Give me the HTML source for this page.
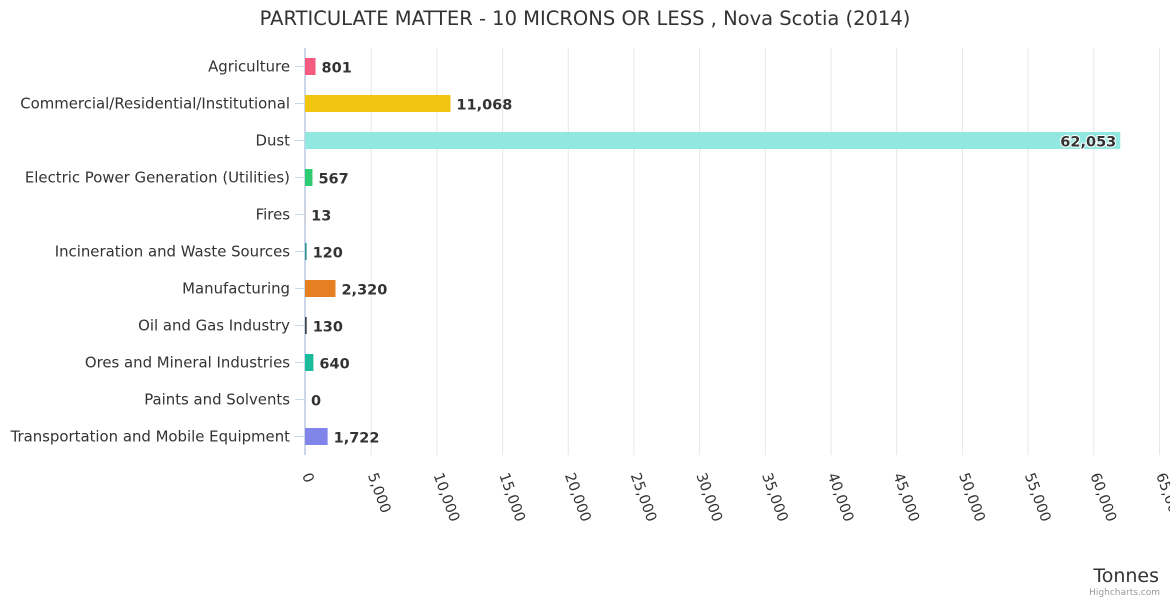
<!DOCTYPE html>
<html><head><meta charset="utf-8"><style>
body{margin:0;background:#fff;}
svg{font-family:"DejaVu Sans",sans-serif;display:block}
</style></head><body>
<svg id="chart" width="1170" height="600">
<text x="585" y="25" text-anchor="middle" font-size="19.5" fill="#333" font-family="DejaVu Sans, sans-serif">PARTICULATE MATTER - 10 MICRONS OR LESS , Nova Scotia (2014)</text>
<g id="grid"></g><g id="bars"></g><g id="labels"></g>
<text x="1159" y="582" text-anchor="end" font-size="19" fill="#333" font-family="DejaVu Sans, sans-serif">Tonnes</text>
<text x="1160" y="595" text-anchor="end" font-size="9" fill="#999">Highcharts.com</text>
</svg>
<script>
const categories=["Agriculture","Commercial/Residential/Institutional","Dust","Electric Power Generation (Utilities)","Fires","Incineration and Waste Sources","Manufacturing","Oil and Gas Industry","Ores and Mineral Industries","Paints and Solvents","Transportation and Mobile Equipment"];
const values=[801,11068,62053,567,13,120,2320,130,640,0,1722];
const colors=["#f45b80","#f1c40f","#91e8e1","#2ecc71","#f7a35c","#2b908f","#e67e22","#434348","#1abc9c","#8d4653","#8085e9"];
const ticks=[0,5000,10000,15000,20000,25000,30000,35000,40000,45000,50000,55000,60000,65000];
const X0=305,X1=1159,XMAX=65000,Y0=48,ROW=37;
const NS="http://www.w3.org/2000/svg";
const x=v=>X0+(X1-X0)*v/XMAX;
const yc=i=>Y0+ROW*i+ROW/2;
const fmt=v=>v.toLocaleString('en-US');
function mk(t,a,p){const e=document.createElementNS(NS,t);for(const k in a)e.setAttribute(k,a[k]);p.appendChild(e);return e;}
const G=document.getElementById('grid'),B=document.getElementById('bars'),L=document.getElementById('labels');
const H=Y0+ROW*categories.length;
ticks.forEach(t=>{
 const gl=mk('line',{x1:x(t)+0.5,x2:x(t)+0.5,y1:Y0,y2:H,stroke:t===0?'#ccd6eb':'#e6e6e6','stroke-width':1},G);
 
 
 const tx=mk('text',{transform:`translate(${x(t)-3},${475}) rotate(70)`,'font-size':14.5,fill:'#333','font-family':'DejaVu Sans, sans-serif'},L);
 tx.textContent=fmt(t);
 
 
});
categories.forEach((c,i)=>{
 const y=yc(i);
 const tk=mk('line',{x1:X0-10,x2:X0,y1:y,y2:y,stroke:'#ccd6eb'},G);
 
 
 const cl=mk('text',{x:X0-15,y:y+5,'text-anchor':'end','font-size':14.9,fill:'#333','font-family':'DejaVu Sans, sans-serif'},L);
 cl.textContent=c;
 
 
 const w=x(values[i])-X0;
 const r=mk('rect',{x:X0,y:y-8.5,width:Math.max(w,0),height:17,fill:colors[i]},B);
 
 
 const inside=w>700;
 const vl=mk('text',{x:inside?x(values[i])-4:x(values[i])+6,y:y+6,'text-anchor':inside?'end':'start','font-size':14.5,'font-weight':'bold',fill:'#333','font-family':'DejaVu Sans, sans-serif',stroke:'#fff','stroke-width':inside?2:0,'paint-order':'stroke'},L);
 vl.textContent=fmt(values[i]);
 
 
});
const ax=mk('line',{x1:X0-0.5,x2:X0-0.5,y1:Y0,y2:H,stroke:'#ccd6eb'},G);


</script>
</body></html>
